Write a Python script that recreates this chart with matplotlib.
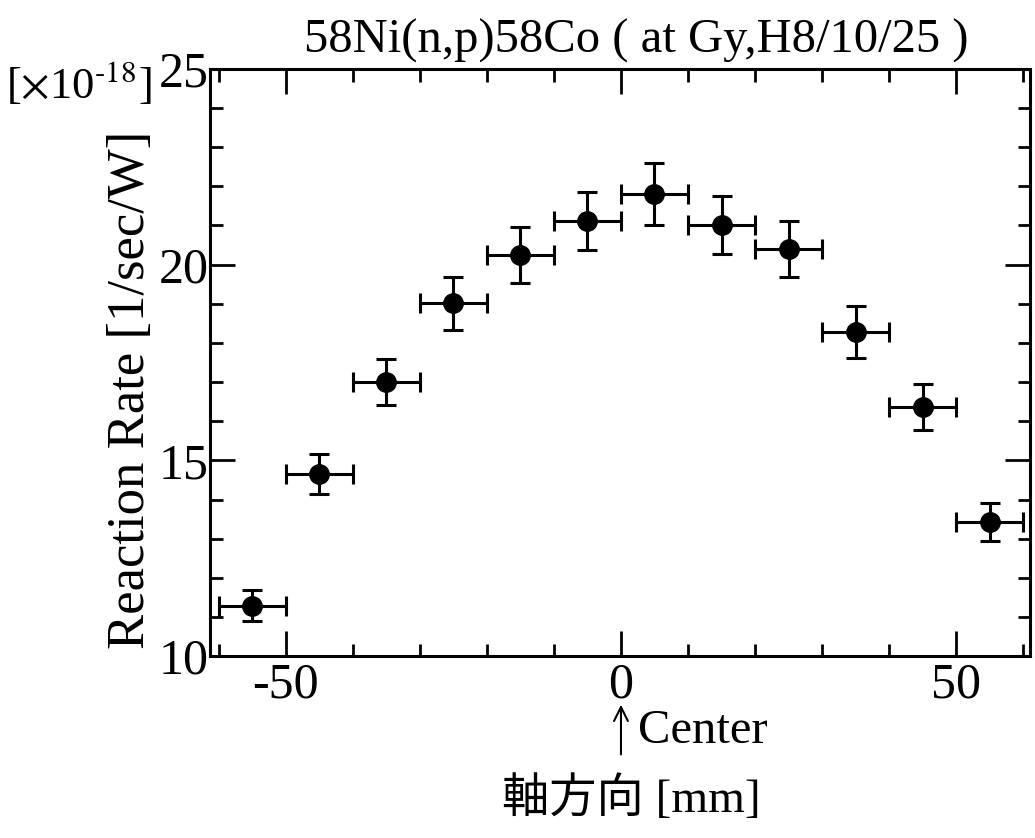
import numpy as np
import matplotlib
matplotlib.use("Agg")
import matplotlib.pyplot as plt
from matplotlib.ticker import MultipleLocator

plt.rcParams['font.family'] = ['Liberation Serif', 'Noto Sans CJK JP']
plt.rcParams['mathtext.fontset'] = 'stix'
plt.rcParams['axes.unicode_minus'] = False

# data (reaction rate in units of 1e-18 1/sec/W)
position = [-55, -45, -35, -25, -15, -5, 5, 15, 25, 35, 45, 55]
rate = [11.29, 14.65, 17.0, 19.01, 20.25, 21.12, 21.80, 21.01, 20.39, 18.28, 16.36, 13.42]
rate_err = [0.40, 0.52, 0.59, 0.67, 0.71, 0.74, 0.78, 0.75, 0.72, 0.66, 0.58, 0.48]
pos_err = [5] * 12

fig = plt.figure(figsize=(10.35, 8.38), dpi=100)
ax = fig.add_axes([0.203, 0.217, 0.792, 0.701])

ax.errorbar(position, rate, xerr=pos_err, yerr=rate_err, fmt='o', color='black',
            markersize=14, elinewidth=2.2, capsize=7.5, capthick=2.2)

ax.set_xlim(-61.3, 61)
ax.set_ylim(10, 25)
ax.xaxis.set_major_locator(MultipleLocator(50))
ax.xaxis.set_minor_locator(MultipleLocator(10))
ax.yaxis.set_major_locator(MultipleLocator(5))
ax.yaxis.set_minor_locator(MultipleLocator(1))
ax.tick_params(which='both', direction='in', top=True, right=True, width=2, labelsize=36)
ax.tick_params(which='major', length=18)
ax.tick_params(which='minor', length=9)
ax.tick_params(axis='y', pad=1)
ax.tick_params(axis='x', pad=4)
for s in ax.spines.values():
    s.set_linewidth(2.2)

fig.text(0.615, 0.951, '58Ni(n,p)58Co ( at Gy,H8/10/25 )', fontsize=35, ha='center', va='center')
fig.text(0.006, 0.9, r'[$\times$10$^{\text{-18}}$]', fontsize=32, ha='left', va='center')
fig.text(0.127, 0.535, 'Reaction Rate [1/sec/W]', fontsize=38, rotation=90, ha='center', va='center')
fig.text(0.61, 0.046, '軸方向 [mm]', fontsize=34, ha='center', va='center')

# arrow marking the center position
ax.annotate('', xy=(0, -0.078), xycoords=('data', 'axes fraction'),
            xytext=(0, -0.172), textcoords=('data', 'axes fraction'),
            arrowprops=dict(arrowstyle='->', lw=1.5, color='black', mutation_scale=25))
ax.text(2.5, -0.128, 'Center', transform=ax.get_xaxis_transform(), fontsize=35,
        ha='left', va='center')

fig.savefig('out.png', dpi=100)
